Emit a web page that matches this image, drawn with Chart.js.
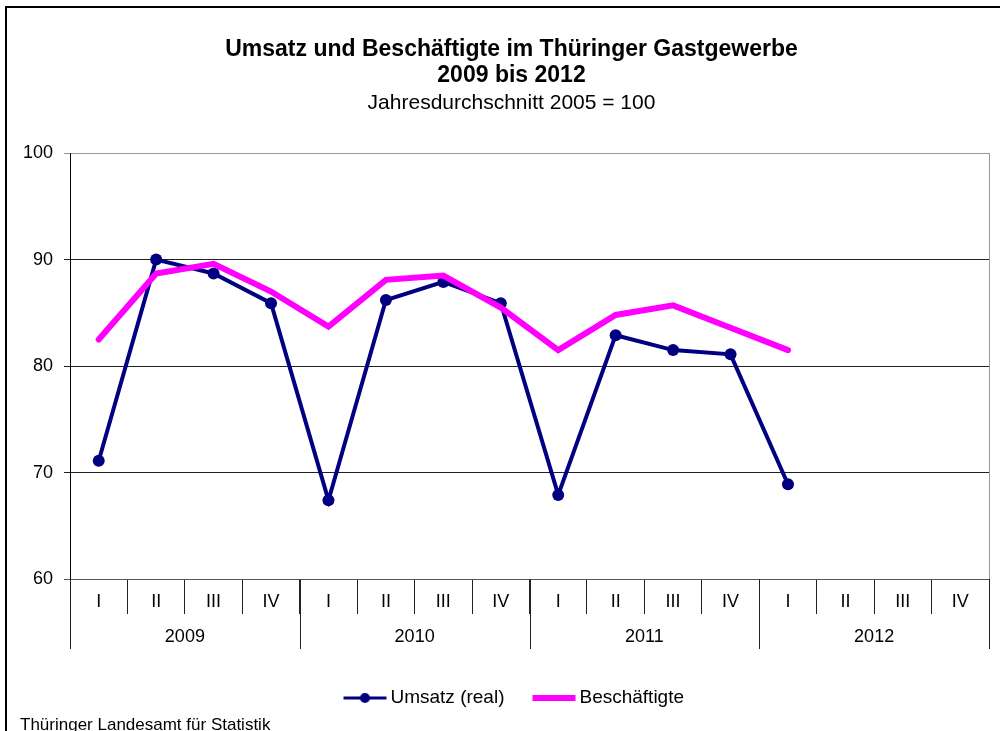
<!DOCTYPE html>
<html>
<head>
<meta charset="utf-8">
<script src="https://cdn.jsdelivr.net/npm/chart.js@4.4.0/dist/chart.umd.min.js"></script>
<style>
html, body { margin: 0; padding: 0; background: #fff; }
#wrap { position: relative; width: 1000px; height: 731px; overflow: hidden; }
#frame { position: absolute; left: 5px; top: 6px; width: 1000px; height: 800px; border-left: 2px solid #000; border-top: 2px solid #000; }
#source { position: absolute; left: 20px; top: 715px; font: 17px "Liberation Sans", Arial, sans-serif; line-height: 19px; color: #000; }
canvas { position: absolute; left: 0; top: 0; }
</style>
</head>
<body>
<div id="wrap">
  <div id="frame"></div>
  <canvas id="gastChart" width="1000" height="731"></canvas>
  <div id="source">Thüringer Landesamt für Statistik</div>
</div>
<script>
var years = ['2009', '2010', '2011', '2012'];
var quarters = ['I', 'II', 'III', 'IV', 'I', 'II', 'III', 'IV', 'I', 'II', 'III', 'IV', 'I', 'II', 'III', 'IV'];
var umsatz = [71.1, 90.0, 88.7, 85.9, 67.4, 86.2, 87.9, 85.9, 67.9, 82.9, 81.5, 81.1, 68.9, null, null, null];
var beschaeftigte = [82.5, 88.7, 89.6, 87.0, 83.7, 88.1, 88.5, 85.5, 81.5, 84.8, 85.7, 83.6, 81.5, null, null, null];
var yTicks = [60, 70, 80, 90, 100];

Chart.defaults.font.family = '"Liberation Sans", Arial, sans-serif';
Chart.defaults.color = '#000';

// little line+dot pictures for the legend
function legendSymbol(color, lineWidth, dotRadius) {
    var c = document.createElement('canvas');
    c.width = 45;
    c.height = 14;
    var ctx = c.getContext('2d');
    ctx.strokeStyle = color;
    ctx.lineWidth = lineWidth;
    ctx.beginPath();
    ctx.moveTo(1, 7);
    ctx.lineTo(44, 7);
    ctx.stroke();
    if (dotRadius) {
        ctx.fillStyle = color;
        ctx.beginPath();
        ctx.arc(22.5, 7, dotRadius, 0, Math.PI * 2);
        ctx.fill();
    }
    return c;
}
var symbols = [legendSymbol('#000080', 3, 5), legendSymbol('#ff00ff', 6, 0)];

// the title, subtitle and legend sit a bit right of the canvas centre
var shiftBoxes = {
    id: 'shiftBoxes',
    afterLayout: function(chart) {
        chart.boxes.forEach(function(box) {
            if (box.axis) return;
            box.left += (box === chart.legend) ? 44 : 34;
        });
    }
};

// second row of the category axis: years with long separators
var yearRow = {
    id: 'yearRow',
    afterDraw: function(chart) {
        var ctx = chart.ctx;
        var x = chart.scales.x;
        var area = chart.chartArea;
        var half = (x.getPixelForValue(1) - x.getPixelForValue(0)) / 2;
        ctx.save();
        ctx.lineWidth = 1;
        ctx.strokeStyle = '#999';
        ctx.beginPath();
        ctx.moveTo(Math.round(area.right) + 0.5, area.top);
        ctx.lineTo(Math.round(area.right) + 0.5, area.bottom);
        ctx.stroke();
        ctx.strokeStyle = '#222';
        ctx.fillStyle = '#000';
        ctx.font = '18px "Liberation Sans", Arial, sans-serif';
        ctx.textAlign = 'center';
        ctx.textBaseline = 'middle';
        years.forEach(function(year, i) {
            var left = x.getPixelForValue(i * 4) - half;
            var right = x.getPixelForValue(i * 4 + 3) + half;
            [left, right].forEach(function(px) {
                ctx.beginPath();
                ctx.moveTo(Math.round(px) + 0.5, area.bottom);
                ctx.lineTo(Math.round(px) + 0.5, area.bottom + 70);
                ctx.stroke();
            });
            ctx.fillText(year, (left + right) / 2, area.bottom + 58.5);
        });
        ctx.restore();
    }
};

var gastChart = new Chart(document.getElementById('gastChart'), {
    type: 'line',
    data: {
        labels: quarters,
        datasets: [{
            label: 'Umsatz (real)',
            data: umsatz,
            borderColor: '#000080',
            backgroundColor: '#000080',
            borderWidth: 4,
            pointRadius: 6,
            pointBorderWidth: 0,
            pointBackgroundColor: '#000080',
            order: 1
        }, {
            label: 'Beschäftigte',
            data: beschaeftigte,
            borderColor: '#ff00ff',
            backgroundColor: '#ff00ff',
            borderWidth: 6,
            borderCapStyle: 'round',
            pointRadius: 0,
            order: 0
        }]
    },
    options: {
        responsive: false,
        animation: false,
        devicePixelRatio: 1,
        layout: { padding: { left: 0, right: 11, top: 0, bottom: 13.5 } },
        plugins: {
            tooltip: { enabled: false },
            title: {
                display: true,
                text: ['Umsatz und Beschäftigte im Thüringer Gastgewerbe', '2009 bis 2012'],
                font: { size: 23, weight: 'bold', lineHeight: 1.13 },
                color: '#000',
                padding: { top: 37, bottom: 2 }
            },
            subtitle: {
                display: true,
                text: 'Jahresdurchschnitt 2005 = 100',
                font: { size: 21, lineHeight: 1.15 },
                color: '#000',
                padding: { top: 0, bottom: 38 }
            },
            legend: {
                position: 'bottom',
                labels: {
                    usePointStyle: true,
                    pointStyleWidth: 32,
                    padding: 33.5,
                    font: { size: 19 },
                    color: '#000',
                    sort: function(a, b) { return a.datasetIndex - b.datasetIndex; },
                    generateLabels: function(chart) {
                        var items = Chart.defaults.plugins.legend.labels.generateLabels(chart);
                        items.forEach(function(item) { item.pointStyle = symbols[item.datasetIndex]; });
                        return items;
                    }
                }
            }
        },
        scales: {
            x: {
                offset: true,
                grid: { offset: true, drawOnChartArea: false, tickLength: 35, color: '#222' },
                border: { display: true, color: '#555' },
                ticks: { font: { size: 18 }, padding: -23, maxRotation: 0, autoSkip: false },
                afterFit: function(scale) { scale.height = 76; }
            },
            y: {
                min: 60,
                max: 100,
                afterBuildTicks: function(scale) {
                    scale.ticks = yTicks.map(function(v) { return { value: v }; });
                },
                grid: {
                    tickLength: 6,
                    color: function(ctx) {
                        if (ctx.tick.value === 100) return '#999';
                        if (ctx.tick.value === 60) return '#555';
                        return '#222';
                    }
                },
                border: { display: true, color: '#000' },
                ticks: { font: { size: 18 }, padding: 11 },
                afterFit: function(scale) { scale.width = 70; }
            }
        }
    },
    plugins: [shiftBoxes, yearRow]
});
</script>
</body>
</html>
